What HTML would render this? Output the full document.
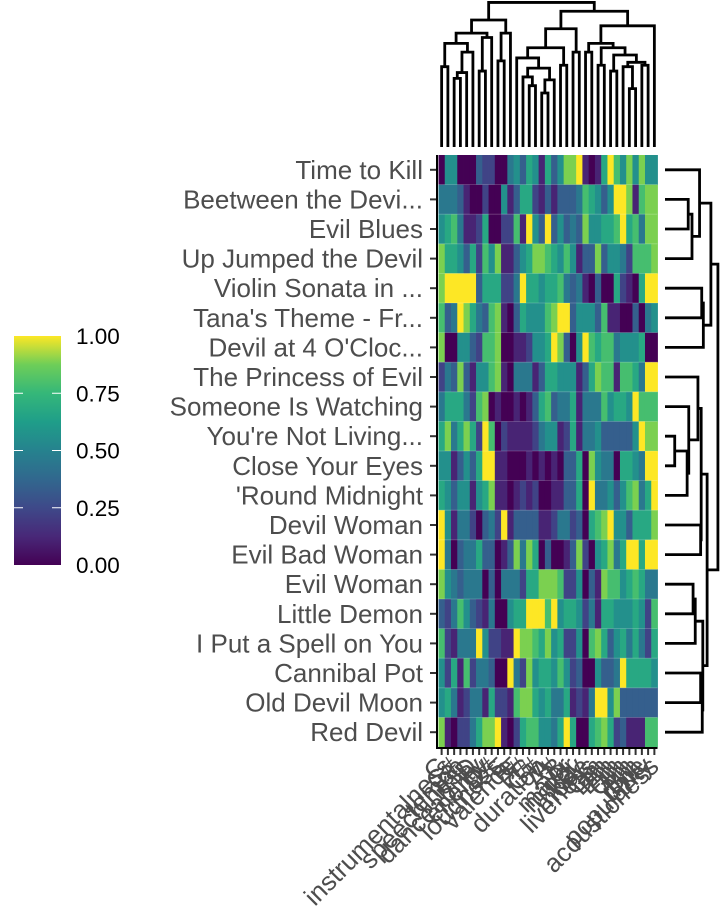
<!DOCTYPE html>
<html><head><meta charset="utf-8"><style>
html,body{margin:0;padding:0;background:#fff;}
svg{display:block;font-family:"Liberation Sans",Arial,sans-serif;}
</style></head><body>
<svg id="chart" width="720" height="921" viewBox="0 0 720 921">
<defs>
<linearGradient id="virGrad" x1="0" y1="1" x2="0" y2="0">
<stop offset="0" stop-color="#440154"/><stop offset="0.125" stop-color="#482878"/><stop offset="0.25" stop-color="#3e4989"/><stop offset="0.375" stop-color="#31688e"/><stop offset="0.5" stop-color="#26828e"/><stop offset="0.625" stop-color="#1f9e89"/><stop offset="0.75" stop-color="#35b779"/><stop offset="0.875" stop-color="#6ece58"/><stop offset="1" stop-color="#fde725"/>
</linearGradient>
</defs>
<g>
<rect x="14" y="336" width="47" height="229" fill="url(#virGrad)"/>
<g id="legendTickGroup"></g>
</g>
<g id="heatGroup"></g>
<g id="rowLabelGroup"></g>
<g id="colLabelGroup"></g>
<g id="topDendroGroup"></g>
<g id="rightDendroGroup"></g>
</svg>
<script>
const rowNames = ["Time to Kill","Beetween the Devi...","Evil Blues","Up Jumped the Devil","Violin Sonata in ...","Tana's Theme - Fr...","Devil at 4 O'Cloc...","The Princess of Evil","Someone Is Watching","You're Not Living...","Close Your Eyes","'Round Midnight","Devil Woman","Evil Bad Woman","Evil Woman","Little Demon","I Put a Spell on You","Cannibal Pot","Old Devil Moon","Red Devil"];
const colNames = ["C","instrumentalness","C#","tempo","speechiness","D","danceability","energy","D#","loudness","E","valence","F","F#","G","G#","duration","A","A#","B","major","minor","key","mode","liveness","Cm","Dm","Em","Fm","Gm","Am","Bm","time","popularity","acousticness"];
const legendTicks = [0, 0.25, 0.5, 0.75, 1];
const legendLabels = ["0.00","0.25","0.50","0.75","1.00"];
const row01 = [0,.5,.5,0,0,0,.3,.2,.2,0,0,.4,.5,.3,.6,.5,.1,.6,.3,.5,.8,.8,1,.1,0,.1,.6,1,.7,.5,.8,.5,.8,.5,.5];
const row02 = [.4,.4,.4,.3,.1,0,0,.2,0,0,.5,.1,.3,.6,.6,.2,.1,.3,.1,.3,.3,.3,.4,.7,.6,.5,.3,.5,1,1,.8,.1,.7,.8,.8];
const row03 = [.5,.6,.7,.4,.1,.1,.2,.6,0,0,.2,.2,.7,.1,1,.5,.3,1,.3,.5,.3,.4,.3,.8,.5,.5,.6,.6,.7,1,.6,.7,.4,.8,.8];
const row04 = [.8,.6,.6,.5,.3,.6,.2,.7,.5,.8,.1,.1,.3,.5,.6,.8,.8,.7,.6,.5,.7,.5,.1,.3,.3,.8,.3,.5,.5,.4,.2,.7,.7,.7,.8];
const row05 = [.8,1,1,1,1,1,.3,.6,.6,.6,.2,.2,.4,1,.6,.6,.5,.6,.6,.7,.4,.3,.4,.1,0,.3,0,0,.6,.2,.1,0,.6,1,1];
const row06 = [.7,.3,.4,1,.8,.6,.4,.3,.7,.8,.1,0,.3,.6,.5,.5,.5,.7,.8,1,1,.3,.5,.5,.5,.3,.7,.1,.1,0,0,.3,0,.4,.5];
const row07 = [.8,0,0,.5,.5,.3,.2,.7,.7,.8,0,0,.1,.1,.2,.5,.5,.6,1,.8,.3,0,.5,1,.7,.6,.7,.7,.4,.5,.5,.5,.6,0,0];
const row08 = [.2,.4,.3,.8,.3,.1,.5,.5,.7,.8,.1,0,.4,.4,.4,.1,.3,.6,.6,.5,.5,.5,.1,.3,.6,.8,.7,.7,.1,.7,.7,.6,.4,1,1];
const row09 = [.4,.6,.6,.6,.4,.2,.7,.8,0,.1,0,0,.1,0,.1,.3,.6,.7,.3,.4,.4,.6,.1,.4,.4,.4,.7,.5,.6,.6,.5,1,.7,.7,.7];
const row10 = [.6,.8,.4,.6,.8,.6,.2,1,.7,0,.2,.1,.1,.1,.1,.2,.4,.5,.5,.1,.2,.6,.1,.4,.4,.5,.3,.3,.3,.3,.3,.5,1,.8,.8];
const row11 = [.5,.5,.1,.3,.5,.3,.6,1,1,.1,.1,0,0,0,.1,0,.1,0,.1,0,.3,.3,.6,0,.8,.5,.4,.4,0,.6,.6,.5,.4,1,1];
const row12 = [.6,.5,.3,.5,.5,.1,.5,.6,.8,.1,.1,0,.1,.2,.1,.2,0,0,.1,.1,.3,.3,.6,0,1,.4,.4,.5,.3,.5,.7,.8,.4,.6,1];
const row13 = [1,.5,.1,.4,.4,.2,0,.3,.4,.2,1,.1,.3,.3,.3,.3,.1,.1,.2,.4,.4,.2,.3,0,.6,.7,.8,1,.5,.5,.3,.6,.6,.6,.8];
const row14 = [1,.4,0,.3,.4,.4,.6,.3,.3,0,.1,.3,.8,.4,.8,.6,0,.3,0,0,.1,.3,.8,.2,0,.5,.6,.8,.4,.6,1,1,.6,1,1];
const row15 = [.8,.5,.4,.3,.4,.4,.4,0,.3,0,.4,.4,.4,.2,.6,.6,.8,.8,.8,.7,.2,.2,.5,0,.3,.1,.8,.7,.7,.5,.6,.7,.6,.4,.4];
const row16 = [.3,.2,.4,.7,.5,.3,.2,.1,.4,0,0,.5,.6,.6,1,1,1,.7,1,.5,.6,.6,.5,.2,.4,.1,.6,.6,.5,.5,.5,.6,.5,.2,.7];
const row17 = [.7,.2,.1,.4,.4,.4,1,.5,.2,.2,.1,.1,1,.8,.8,.7,.6,.8,.5,.6,.2,.2,.5,0,.7,.8,.6,.3,.5,.6,.4,.6,.4,.2,.6];
const row18 = [.5,.2,.6,.1,.7,.2,.4,.4,.3,0,0,1,.4,.2,.8,.5,.6,.6,.5,.7,.5,.2,.3,0,0,.5,.3,.3,.4,1,.6,.6,.6,.6,.5];
const row19 = [.5,.6,.4,.1,.2,.4,.4,.1,.6,.2,.2,.1,.7,.8,.8,.6,.5,.6,.4,.4,.6,.1,.2,.1,.4,1,1,.5,.8,.3,.3,.3,.3,.3,.3];
const row20 = [.8,.1,0,.2,.2,.4,.6,.8,.8,1,.1,0,.2,.6,.7,.7,.5,.5,.4,.6,1,.6,0,0,.6,.7,.8,.6,.2,.3,.1,.1,.1,.7,.7];
const values = [row01,row02,row03,row04,row05,row06,row07,row08,row09,row10,row11,row12,row13,row14,row15,row16,row17,row18,row19,row20];
const colTree = [[[[[0,1,.55],[[[2,3,.47],4,.51],5,.65],.71],[[6,7,.52],8,.75],.78],[[9,10,.59],11,.78],.87],
  [[[[12,[[13,[14,15,.42],.48],[[16,17,.37],18,.46],.54],.61],[19,20,.56],.68],[21,22,.65],.81],
   [[[23,24,.65],[[25,26,.56],[[27,28,.52],[[29,[30,31,.4],.55],[32,33,.56],.58],.63],.68],.71],34,.83],.93],.99];
const rowTree = [[[0,[[1,2,.43],3,.5],.64],[[4,5,.68],6,.71],.85],
  [[[7,[8,[[9,10,.18],11,.41],.44],.61],[12,13,.66],.67],[[[14,15,.52],16,.56],[[17,18,.66],19,.69],.7],.78],.98];
</script>
<script>
const svg = document.getElementById('chart');
const NS = 'http://www.w3.org/2000/svg';
const X0 = 438.5, X1 = 657.5, Y0 = 155, Y1 = 747;
const nC = colNames.length, nR = rowNames.length;
const cw = (X1 - X0) / nC, rh = (Y1 - Y0) / nR;
const xC = i => X0 + cw * (i + 0.5);
const yR = j => Y0 + rh * (j + 0.5);
const virStops = [[68,1,84],[72,40,120],[62,74,137],[49,104,142],[38,130,142],[31,158,137],[53,183,121],[109,205,89],[180,222,44],[253,231,37]];
function color(v){v=Math.max(0,Math.min(1,v));const t=v*9,i=Math.min(8,Math.floor(t)),f=t-i;const a=virStops[i],b=virStops[i+1];
  return 'rgb('+a.map((c,k)=>Math.round(c+(b[k]-c)*f)).join(',')+')';}
function mk(tag, attrs, parent){const e=document.createElementNS(NS,tag);for(const k in attrs)e.setAttribute(k,attrs[k]);parent.appendChild(e);return e;}
const lg = document.getElementById('legendTickGroup');
const legY = v => 565 - v * 229;
legendTicks.forEach((v,i)=>{
  const y = legY(v);
  if(v>0&&v<1){
    const t1 = mk('line',{x1:14,x2:23,y1:y,y2:y,stroke:'#fff','stroke-width':1},lg);
    
    
    const t2 = mk('line',{x1:52,x2:61,y1:y,y2:y,stroke:'#fff','stroke-width':1},lg);
    
    
  }
  const t = mk('text',{x:76,y:y+8,'font-size':22.5,fill:'#000'},lg);
  t.textContent = legendLabels[i];
  
  
});
const heat = document.getElementById('heatGroup');
values.forEach((row,j)=>row.forEach((v,i)=>{
  const r = mk('rect',{x:X0+cw*i,y:Y0+rh*j,width:cw+0.4,height:rh+0.4,fill:color(v)},heat);
  
  
}));
values.forEach((row,j)=>{ if(j>0){ const l = mk('line',{x1:X0,x2:X1,y1:Y0+rh*j,y2:Y0+rh*j,stroke:'rgba(255,255,255,0.25)','stroke-width':0.8},heat);
  
   }});
const axY = mk('line',{x1:437,x2:437,y1:Y0,y2:Y1+2,stroke:'#000','stroke-width':2},svg);


const axX = mk('line',{x1:436,x2:X1,y1:Y1+1,y2:Y1+1,stroke:'#000','stroke-width':2},svg);


const rl = document.getElementById('rowLabelGroup');
rowNames.forEach((n,j)=>{
  const y=yR(j);
  const tk = mk('line',{x1:430,x2:437,y1:y,y2:y,stroke:'#333','stroke-width':2},rl);
  
  
  const t = mk('text',{x:423,y:y+9,'font-size':26,fill:'#4d4d4d','text-anchor':'end'},rl);
  t.textContent = n;
  
  
});
const cl = document.getElementById('colLabelGroup');
colNames.forEach((n,i)=>{
  const x=xC(i);
  const tk = mk('line',{x1:x,x2:x,y1:Y1+1,y2:Y1+8,stroke:'#333','stroke-width':2},cl);
  
  
  const t = mk('text',{x:x+6,y:768,'font-size':26,fill:'#4d4d4d','text-anchor':'end',transform:'rotate(-45 '+(x+6)+' 768)'},cl);
  t.textContent = n;
  
  
});
const td = document.getElementById('topDendroGroup');
const leafY = 147, topH = 146;
function drawTop(node){
  if(typeof node==='number') return {x:xC(node),y:leafY};
  const a=drawTop(node[0]), b=drawTop(node[1]); const y = leafY - node[2]*topH;
  const p = mk('path',{d:'M'+a.x+' '+a.y+'V'+y+'H'+b.x+'V'+b.y,fill:'none',stroke:'#000','stroke-width':2.8},td);
  
  
  return {x:(a.x+b.x)/2,y:y};
}
drawTop(colTree);
const rd = document.getElementById('rightDendroGroup');
const leafX = 665, rW = 54;
function drawRight(node){
  if(typeof node==='number') return {x:leafX,y:yR(node)};
  const a=drawRight(node[0]), b=drawRight(node[1]); const x = leafX + node[2]*rW;
  const p = mk('path',{d:'M'+a.x+' '+a.y+'H'+x+'V'+b.y+'H'+b.x,fill:'none',stroke:'#000','stroke-width':2.8},rd);
  
  
  return {x:x,y:(a.y+b.y)/2};
}
drawRight(rowTree);
</script>
</body></html>
